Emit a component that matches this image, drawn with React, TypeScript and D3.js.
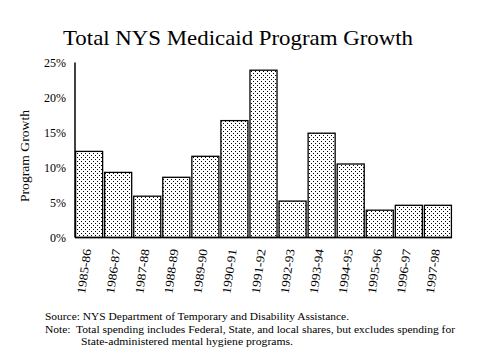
import React from "react";
import * as d3 from "d3";

const categories = ["1985-86","1986-87","1987-88","1988-89","1989-90","1990-91","1991-92","1992-93","1993-94","1994-95","1995-96","1996-97","1997-98"];
const growth = [12.3, 9.3, 5.9, 8.6, 11.6, 16.7, 23.9, 5.2, 14.9, 10.5, 3.9, 4.6, 4.6];
const yTicks = [0, 5, 10, 15, 20, 25];

const title = "Total NYS Medicaid Program Growth";
const yTitle = "Program Growth";
const sourceText = "Source: NYS Department of Temporary and Disability Assistance.";
const noteText1 = "Note:  Total spending includes Federal, State, and local shares, but excludes spending for";
const noteText2 = "State-administered mental hygiene programs.";

const FONT = "Liberation Serif";

export default function App() {
  const W = 479, H = 359;
  const x0 = 75, x1 = 452, yBase = 237.5, yTop = 62.5;
  const x = d3.scaleBand<string>().domain(categories).range([x0, x1]).paddingInner(0.07).paddingOuter(0.02);
  const y = d3.scaleLinear().domain([0, 25]).range([yBase, yTop]);
  const tf = { fontFamily: FONT } as React.CSSProperties;
  return (
    <div style={{ position: "absolute", left: 0, top: 0 }}>
      <svg width={W} height={H} style={{ display: "block", background: "#fff" }}>
        <defs>
          <pattern id="dots" width="4" height="4" patternUnits="userSpaceOnUse">
            <rect width="4" height="4" fill="#fff" />
            <rect x="1" y="1" width="1" height="1" fill="#000" />
            <rect x="3" y="3" width="1" height="1" fill="#000" />
          </pattern>
        </defs>
        <rect width={W} height={H} fill="#fff" />
        <text x={63} y={45} fontSize={22} style={tf} textLength={350} lengthAdjust="spacingAndGlyphs">{title}</text>
        {yTicks.map((t) => (
          <text key={t} x={66} y={y(t) + 4} fontSize={12} style={tf} textAnchor="end">{t}%</text>
        ))}
        <text transform={`translate(29,156) rotate(-90)`} fontSize={12} style={tf} textAnchor="middle" textLength={92} lengthAdjust="spacingAndGlyphs">{yTitle}</text>
        {growth.map((v, i) => (
          <rect key={i} x={x(categories[i])!} y={y(v)} width={x.bandwidth()} height={yBase - y(v)}
            fill="url(#dots)" stroke="#000" strokeWidth={1.3} />
        ))}
        <line x1={x0} x2={x0} y1={yTop} y2={yBase} stroke="#000" strokeWidth={1.5} />
        <line x1={x0} x2={x1} y1={yBase} y2={yBase} stroke="#000" strokeWidth={1.5} />
        {categories.map((c) => {
          const cx = x(c)! + x.bandwidth() / 2;
          return (
            <text key={c} transform={`translate(${cx - 2},249) rotate(-82)`} fontSize={12} style={tf} textAnchor="end" dy="0.35em" textLength={45} lengthAdjust="spacingAndGlyphs">{c}</text>
          );
        })}
        <text x={45} y={320} fontSize={11} style={tf} textLength={304} lengthAdjust="spacingAndGlyphs">{sourceText}</text>
        <text x={45} y={333} fontSize={11} style={{ ...tf, whiteSpace: "pre" }} textLength={410} lengthAdjust="spacingAndGlyphs">{noteText1}</text>
        <text x={81} y={345} fontSize={11} style={tf} textLength={212} lengthAdjust="spacingAndGlyphs">{noteText2}</text>
      </svg>
    </div>
  );
}
